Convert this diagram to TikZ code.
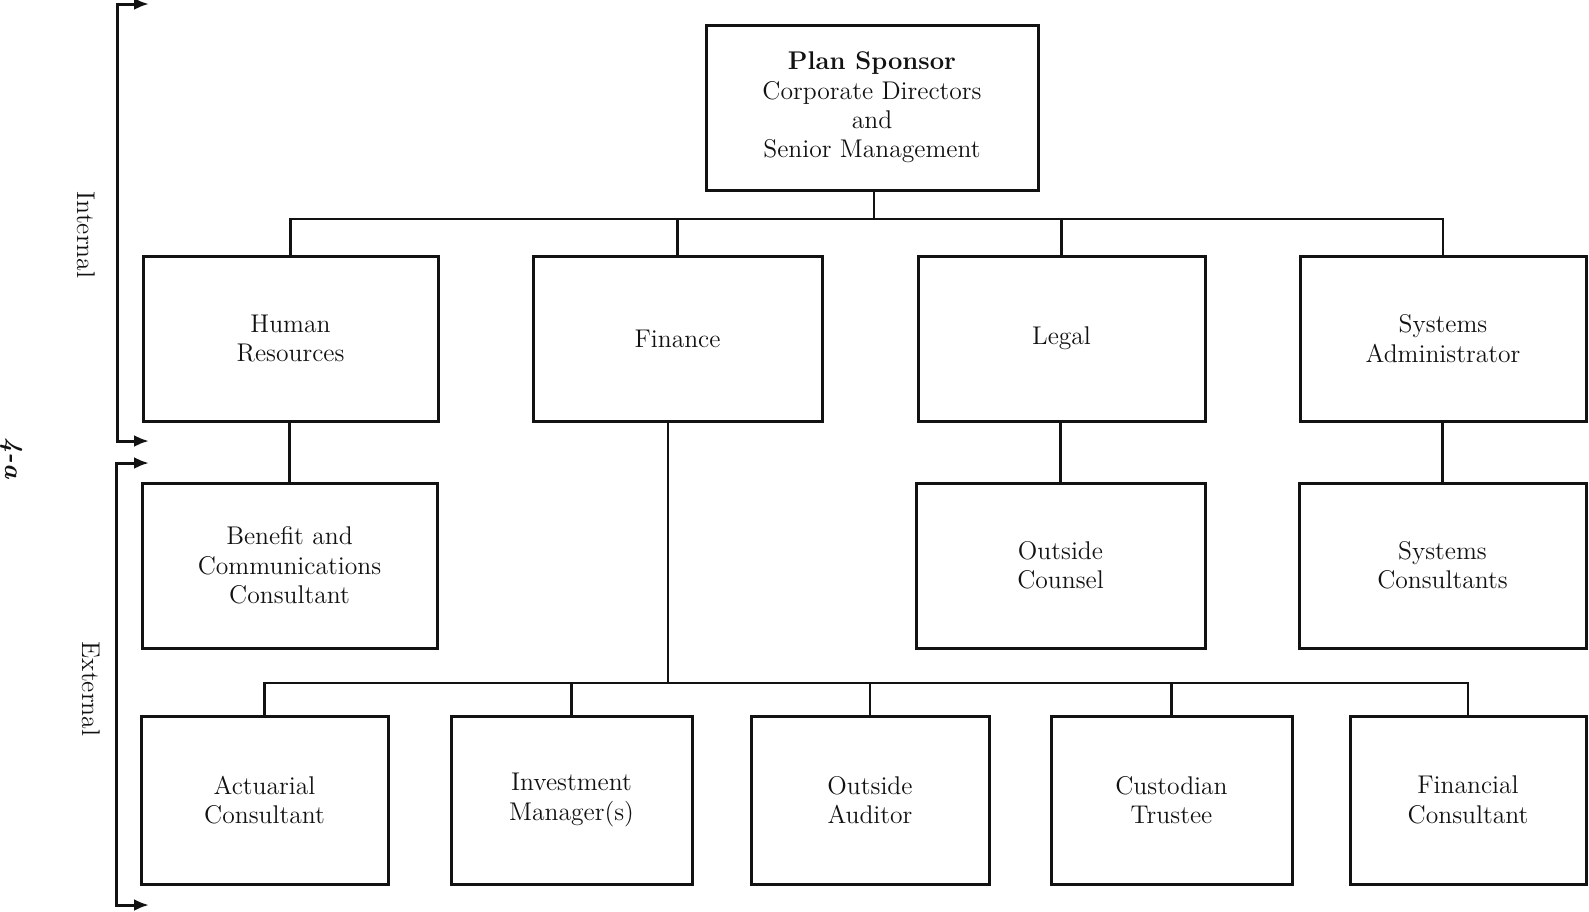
\documentclass[tikz,border=0pt]{standalone}
\usepackage{tikz}
\usepackage{xcolor}
\usetikzlibrary{arrows.meta}

\tikzset{
	orgbox/.style={draw, line width={1.5pt}, color={ALMOST_BLACK}, align=center, inner sep={2pt}, font={\fontsize{12.8}{14.7}\selectfont}},
	orgline/.style={line width={1.2pt}, color={ALMOST_BLACK}},
	sideline/.style={line width={1.5pt}, color={ALMOST_BLACK}, {Latex[length=7.5pt,width=6pt]}-{Latex[length=7.5pt,width=6pt]}},
	sidelabel/.style={rotate={-90}, color={ALMOST_BLACK}, font={\fontsize{12.8}{14.7}\selectfont}}
}

\begin{document}
\begin{tikzpicture}[x={0.5pt}, y={-0.5pt}]
				\definecolor{ALMOST_BLACK}{RGB}{18, 18, 18}
				\useasboundingbox (0, 0) rectangle (1589, 911);

				\node[orgbox, minimum width={166pt}, minimum height={82.5pt}] (sponsor) at (872, 107.5) {\textbf{Plan Sponsor}\\Corporate Directors\\and\\Senior Management};

				\begin{scope}
					\node[orgbox, minimum width={147.5pt}, minimum height={82.5pt}] (hr) at (290.5, 338.5) {Human\\Resources};
					\node[orgbox, minimum width={144.5pt}, minimum height={82.5pt}] (finance) at (677.5, 338.5) {Finance};
					\node[orgbox, minimum width={143.5pt}, minimum height={82.5pt}] (legal) at (1061.5, 338.5) {Legal};
					\node[orgbox, minimum width={143pt}, minimum height={82.5pt}] (sysadmin) at (1443, 338.5) {Systems\\Administrator};
				\end{scope}

				\begin{scope}
					\node[orgbox, minimum width={147.5pt}, minimum height={82.5pt}] (benefit) at (289.5, 565.5) {Benefit and\\Communications\\Consultant};
					\node[orgbox, minimum width={144.5pt}, minimum height={82.5pt}] (counsel) at (1060.5, 565.5) {Outside\\Counsel};
					\node[orgbox, minimum width={143.5pt}, minimum height={82.5pt}] (syscons) at (1442.5, 565.5) {Systems\\Consultants};
				\end{scope}

				\begin{scope}
					\node[orgbox, minimum width={123.5pt}, minimum height={84pt}] (actuarial) at (264.5, 800) {Actuarial\\Consultant};
					\node[orgbox, minimum width={120.5pt}, minimum height={84pt}] (investment) at (571.5, 800) {Investment\\Manager(s)};
					\node[orgbox, minimum width={119pt}, minimum height={84pt}] (auditor) at (870, 800) {Outside\\Auditor};
					\node[orgbox, minimum width={120.5pt}, minimum height={84pt}] (custodian) at (1171.5, 800) {Custodian\\Trustee};
					\node[orgbox, minimum width={118pt}, minimum height={84pt}] (financial) at (1468, 800) {Financial\\Consultant};
				\end{scope}

				\coordinate (topbus) at (874, 219);
				\coordinate (lowbus) at (668, 683);

				\draw[orgline] (sponsor.south -| topbus) -- (topbus);
				\draw[orgline] (hr.north) |- (topbus) -| (sysadmin.north);
				\draw[orgline] (finance.north) -- (finance.north |- topbus);
				\draw[orgline] (legal.north) -- (legal.north |- topbus);

				\draw[orgline] (benefit.north) -- (benefit.north |- hr.south);
				\draw[orgline] (counsel.north) -- (counsel.north |- legal.south);
				\draw[orgline] (syscons.north) -- (syscons.north |- sysadmin.south);

				\draw[orgline] (lowbus |- finance.south) -- (lowbus);
				\draw[orgline] (actuarial.north) |- (lowbus) -| (financial.north);
				\draw[orgline] (investment.north) -- (investment.north |- lowbus);
				\draw[orgline] (auditor.north) -- (auditor.north |- lowbus);
				\draw[orgline] (custodian.north) -- (custodian.north |- lowbus);

				\coordinate (inttop) at (149, 4);
				\coordinate (intend) at (149, 441);
				\coordinate (exttop) at (149, 463);
				\coordinate (extend) at (149, 905);

				\draw[sideline] (inttop) -| (117, 441) -- (intend);
				\draw[sideline] (exttop) -| (116, 905) -- (extend);

				\node[sidelabel] (internal) at (86, 235) {Internal};
				\node[sidelabel] (external) at (91, 689) {External};
				\node[sidelabel, font={\fontsize{13}{15}\selectfont\itshape\bfseries}] (pagenum) at (12, 458) {4-a};
			\end{tikzpicture}
\end{document}
